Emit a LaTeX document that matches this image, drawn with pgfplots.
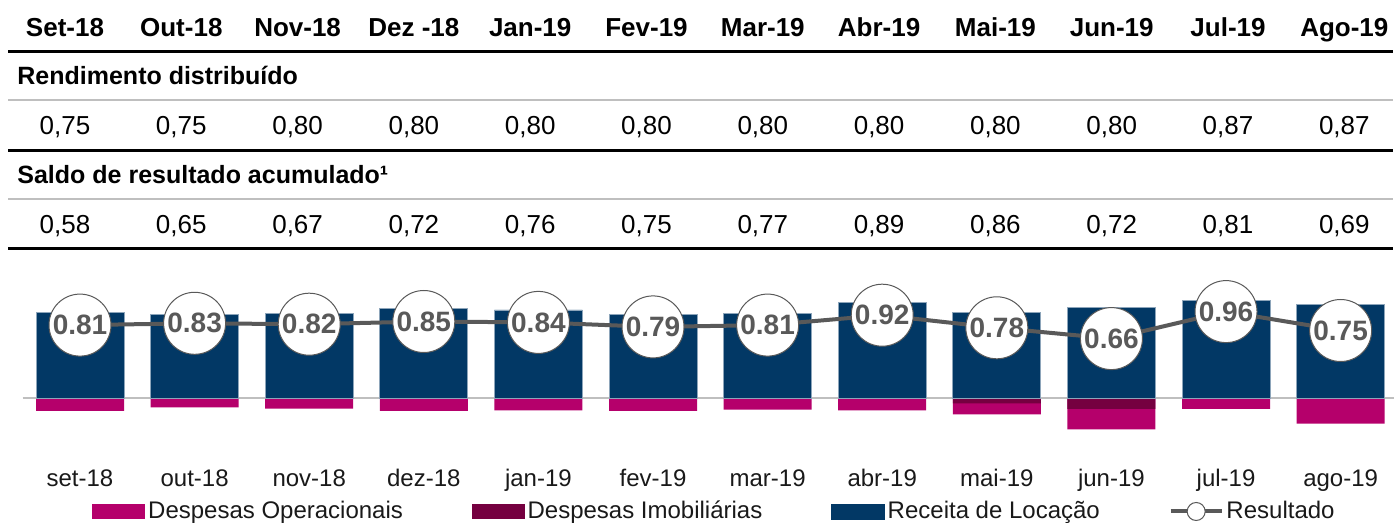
\documentclass[border=0pt]{standalone}
\usepackage{fontspec}
\setmainfont{Liberation Sans}
\usepackage{pgfplots}
\usepackage{pgfplotstable}
\pgfplotsset{compat=1.18}
\definecolor{navy}{RGB}{2,56,101}
\definecolor{pinkop}{RGB}{181,0,107}
\definecolor{imob}{RGB}{117,0,64}
\definecolor{gline}{RGB}{89,89,89}
\definecolor{gsep}{RGB}{191,191,191}
\pgfplotstableread{
idx rec oper imob res
0 0.952 -0.144 0 0.81
1 0.926 -0.103 0 0.83
2 0.937 -0.119 0 0.82
3 0.992 -0.144 0 0.85
4 0.978 -0.137 0 0.84
5 0.933 -0.144 0 0.79
6 0.944 -0.130 0 0.81
7 1.063 -0.137 0 0.92
8 0.952 -0.122 -0.059 0.78
9 1.003 -0.226 -0.122 0.66
10 1.086 -0.122 0 0.96
11 1.041 -0.286 0 0.75
}\datatable
\begin{document}
\begin{tikzpicture}
\useasboundingbox (0,0) rectangle (697pt,-261.5pt);
% ---------- table ----------
\begin{scope}[x=0.5pt,y=-0.5pt]
\foreach \t [count=\i from 0] in {Set-18,Out-18,Nov-18,Dez -18,Jan-19,Fev-19,Mar-19,Abr-19,Mai-19,Jun-19,Jul-19,Ago-19}
  \node[anchor=base,inner sep=0pt,font=\fontsize{13}{15}\selectfont\bfseries] at ({65+116.3*\i},36.7) {\t};
\foreach \t [count=\i from 0] in {{0,75},{0,75},{0,80},{0,80},{0,80},{0,80},{0,80},{0,80},{0,80},{0,80},{0,87},{0,87}}
  \node[anchor=base,inner sep=0pt,font=\fontsize{13}{15}\selectfont] at ({65+116.3*\i},134.3) {\t};
\foreach \t [count=\i from 0] in {{0,58},{0,65},{0,67},{0,72},{0,76},{0,75},{0,77},{0,89},{0,86},{0,72},{0,81},{0,69}}
  \node[anchor=base,inner sep=0pt,font=\fontsize{13}{15}\selectfont] at ({65+116.3*\i},233.3) {\t};
\node[anchor=base west,inner sep=0pt,font=\fontsize{12.5}{15}\selectfont\bfseries] at (17,84.3) {Rendimento distribuído};
\node[anchor=base west,inner sep=0pt,font=\fontsize{12.5}{15}\selectfont\bfseries] at (17,183.3) {Saldo de resultado acumulado¹};
\draw[black,line width=1.3pt] (8,51.7) -- (1393,51.7);
\draw[gsep,line width=1pt] (8,100.3) -- (1393,100.3);
\draw[black,line width=1.3pt] (8,150.7) -- (1393,150.7);
\draw[gsep,line width=1pt] (8,199.3) -- (1393,199.3);
\draw[black,line width=1.3pt] (8,248.3) -- (1393,248.3);
\end{scope}
% ---------- chart ----------
\begin{axis}[
  at={(11.35pt,-217.9pt)}, anchor=south west,
  scale only axis, width=685.9pt, height=70.65pt,
  xmin=-0.5, xmax=11.47, ymin=-0.42, ymax=1.15,
  clip=false,
  axis line style={draw=none},
  major tick length=0pt,
  ytick=\empty,
  extra y ticks={0}, extra y tick labels={},
  extra y tick style={grid=major, grid style={gsep, line width=0.6pt}},
  xtick={0,...,11},
  xticklabels={set-18,out-18,nov-18,dez-18,jan-19,fev-19,mar-19,abr-19,mai-19,jun-19,jul-19,ago-19},
  xticklabel style={anchor=base, yshift=-25.35pt, font=\fontsize{12}{14}\selectfont, text=black!90},
  legend columns=4,
  legend style={at={(0.0505,-0.5357)}, anchor=west, draw=none, fill=none, inner sep=0pt,
    nodes={inner sep=1.4pt, font=\fontsize{12}{14}\selectfont, text=black!90},
    /tikz/every even column/.append style={column sep=33pt}},
]
\addplot[ybar, bar width=44pt, bar shift=0pt, fill=pinkop, draw=none,
  legend image code/.code={\fill[pinkop] (0pt,-3.75pt) rectangle (26.5pt,3.75pt);}]
  table[x=idx, y expr=\thisrow{oper}+\thisrow{imob}] {\datatable};
\addlegendentry{Despesas Operacionais}
\addplot[ybar, bar width=44pt, bar shift=0pt, fill=imob, draw=none,
  legend image code/.code={\fill[imob] (0pt,-3.75pt) rectangle (26.5pt,3.75pt);}]
  table[x=idx, y=imob] {\datatable};
\addlegendentry{Despesas Imobiliárias}
\addplot[ybar, bar width=44pt, bar shift=0pt, fill=navy, draw=navy!45!white, line width=0.4pt,
  legend image code/.code={\fill[navy] (0pt,-3.75pt) rectangle (26.5pt,3.75pt);}]
  table[x=idx, y=rec] {\datatable};
\addlegendentry{Receita de Locação}
\addplot[gline, line width=2pt, mark=*, mark size=15.5pt,
  mark options={fill=white, draw=gline, line width=0.5pt},
  nodes near coords={\pgfmathprintnumber[fixed,fixed zerofill,precision=2,assume math mode=true]{\pgfplotspointmeta}},
  every node near coord/.style={anchor=center, inner sep=0pt, font=\fontsize{14}{16}\selectfont\bfseries, text=gline},
  legend image code/.code={\draw[gline, line width=2pt] (0pt,0pt) -- (25.5pt,0pt);
     \draw[gline, fill=white, line width=0.5pt] (12.75pt,0pt) circle (4.5pt);}]
  table[x=idx, y=res] {\datatable};
\addlegendentry{Resultado}
\end{axis}
\end{tikzpicture}
\end{document}
